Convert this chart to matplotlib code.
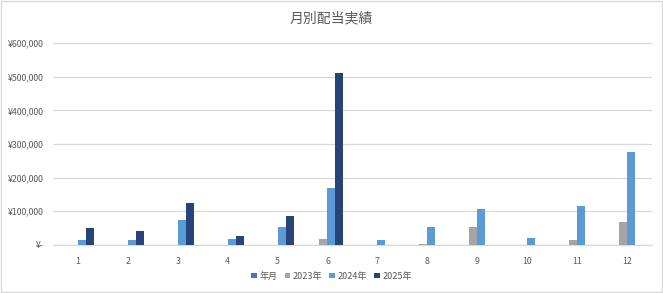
import numpy as np
import matplotlib.pyplot as plt
from matplotlib.ticker import FuncFormatter
from matplotlib.patches import Rectangle

plt.rcParams['font.family'] = ['Noto Sans CJK JP', 'DejaVu Sans']

# データ
months = [1, 2, 3, 4, 5, 6, 7, 8, 9, 10, 11, 12]
series_names = ['年月', '2023年', '2024年', '2025年']
v_nengetsu = [0, 0, 0, 0, 0, 0, 0, 0, 0, 0, 0, 0]
v_2023 = [0, 0, 0, 0, 0, 19000, 0, 4000, 52000, 0, 16000, 67000]
v_2024 = [16000, 16000, 73000, 19000, 52000, 169000, 16000, 52000, 106000, 22000, 115000, 276000]
v_2025 = [49000, 41000, 124000, 28000, 85000, 511000, 0, 0, 0, 0, 0, 0]
colors = ['#4472C4', '#A5A5A5', '#5B9BD5', '#264478']

fig = plt.figure(figsize=(6.63, 2.93), dpi=100)
ax = fig.add_axes([0.08, 0.164, 0.903, 0.689])

x = np.array(months)
w = 0.16
all_series = [v_nengetsu, v_2023, v_2024, v_2025]
for i, vals in enumerate(all_series):
    ax.bar(x + (i - 1.5) * w, vals, width=w, color=colors[i], label=series_names[i], zorder=3)

ax.set_xlim(0.5, 12.5)
ax.set_ylim(0, 600000)
ax.set_yticks(np.arange(0, 600001, 100000))
ax.set_xticks(x)
ax.set_xticklabels([str(m) for m in months])


def yen(v, pos):
    if v == 0:
        return '¥-'
    return '¥{:,.0f}'.format(v)


ax.yaxis.set_major_formatter(FuncFormatter(yen))
ax.grid(axis='y', color='#D9D9D9', linewidth=0.9, zorder=0)
for s in ['top', 'right', 'left']:
    ax.spines[s].set_visible(False)
ax.spines['bottom'].set_color('#D9D9D9')
ax.spines['bottom'].set_linewidth(0.9)
ax.tick_params(length=0, labelsize=6.3, colors='#595959')
ax.tick_params(axis='y', pad=7)
ax.tick_params(axis='x', pad=9)

fig.text(0.5, 0.938, '月別配当実績', ha='center', va='center', fontsize=10, color='#595959')

leg = fig.legend(loc='center', bbox_to_anchor=(0.5, 0.057), ncol=4, frameon=False,
                 fontsize=6.5, handlelength=0.6, handleheight=0.6, handletextpad=0.3,
                 columnspacing=0.8)
for t in leg.get_texts():
    t.set_color('#595959')

fig.patches.append(Rectangle((0.001, 0.002), 0.997, 0.995, transform=fig.transFigure,
                             fill=False, edgecolor='#D9D9D9', linewidth=1))

plt.savefig('out.png', dpi=100)
